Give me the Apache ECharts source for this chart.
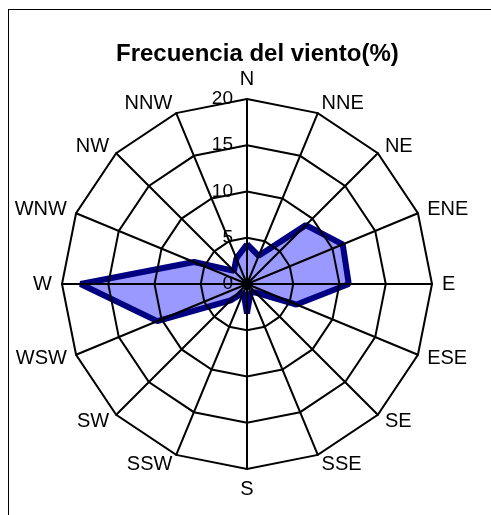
<!DOCTYPE html>
<html>
<head>
<meta charset="utf-8">
<script src="https://cdn.jsdelivr.net/npm/echarts@6/dist/echarts.min.js"></script>
<style>
  html, body { margin: 0; padding: 0; background: #fff; }
  #frame { position: absolute; left: 8px; top: 9px; width: 500px; height: 520px; border-left: 1px solid #000; border-top: 1px solid #000; }
  #chart { position: absolute; left: 0; top: 0; width: 491px; height: 515px; }
</style>
</head>
<body>
<div id="frame"></div>
<div id="chart"></div>
<script>
  // direcciones en orden de la brujula (sentido horario desde N)
  var directions = ["N", "NNE", "NE", "ENE", "E", "ESE", "SE", "SSE", "S", "SSW", "SW", "WSW", "W", "WNW", "NW", "NNW"];
  var frequency = [4.3, 3.3, 9, 11.2, 11, 5.8, 1.3, 1, 3.2, 1, 2.5, 10.5, 18, 6.2, 2, 3];
  var ticks = [0, 5, 10, 15, 20];
  var maxValue = 20;

  // el radar de echarts va en sentido antihorario, se invierte el orden
  var order = [0];
  for (var i = directions.length - 1; i > 0; i--) {
    order.push(i);
  }
  var indicators = order.map(function (i) {
    return { name: directions[i], min: 0, max: maxValue };
  });
  var values = order.map(function (i) {
    return frequency[i];
  });

  var font = "Liberation Sans, Arial, sans-serif";
  var chart = echarts.init(document.getElementById("chart"));
  chart.setOption({
    animation: false,
    title: {
      text: "Frecuencia del viento(%)",
      left: 111,
      top: 37,
      textStyle: {
        fontFamily: font,
        fontSize: 24,
        fontWeight: "bold",
        color: "#000"
      }
    },
    radar: {
      center: [247, 284],
      radius: 185,
      startAngle: 90,
      shape: "polygon",
      splitNumber: ticks.length - 1,
      indicator: indicators,
      axisNameGap: 10,
      z: 3,
      axisName: {
        color: "#000",
        fontFamily: font,
        fontSize: 20
      },
      axisLine: { lineStyle: { color: "#000", width: 2 } },
      splitLine: { lineStyle: { color: "#000", width: 2 } },
      splitArea: { show: false }
    },
    polar: {
      center: [247, 284],
      radius: 185
    },
    angleAxis: {
      startAngle: 90,
      show: false,
      min: 0,
      max: 360
    },
    radiusAxis: {
      min: 0,
      max: maxValue,
      interval: 5,
      z: 4,
      axisLine: { show: false },
      axisTick: { show: false },
      splitLine: { show: false },
      axisLabel: {
        color: "#000",
        fontFamily: font,
        fontSize: 19,
        margin: 14,
        formatter: function (v) {
          return ticks.indexOf(v) >= 0 ? String(v) : "";
        }
      }
    },
    series: [
      {
        // relleno
        type: "radar",
        symbol: "none",
        z: 1,
        lineStyle: { width: 0, opacity: 0 },
        areaStyle: { color: "#9999FF", opacity: 1 },
        data: [{ value: values }]
      },
      {
        // borde grueso
        type: "radar",
        symbol: "none",
        z: 2,
        lineStyle: { color: "#000080", width: 6, join: "bevel" },
        data: [{ value: values }]
      }
    ]
  });
</script>
</body>
</html>
